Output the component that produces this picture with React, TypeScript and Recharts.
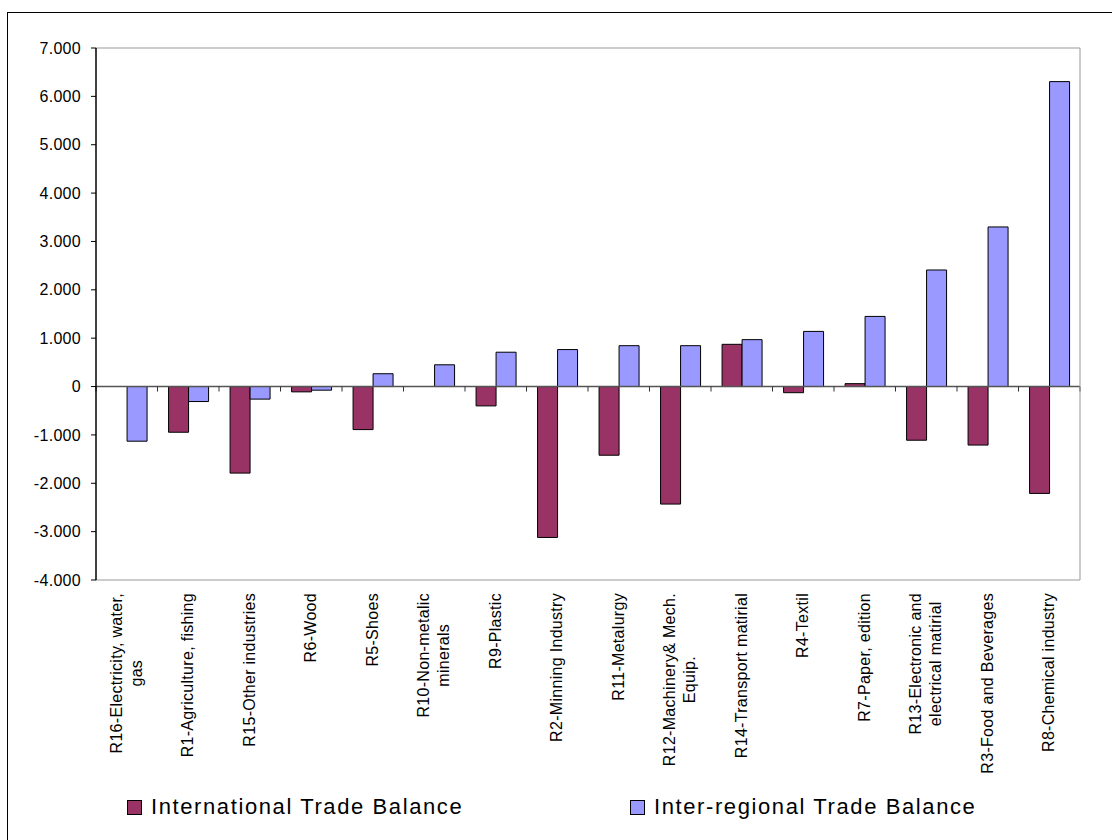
import React from 'react';
import { BarChart, Bar, XAxis, YAxis, CartesianGrid, ReferenceLine } from 'recharts';

// Sectors, sorted by inter-regional balance (as in the source sheet)
const SECTORS = [
  'R16-Electricity, water,\ngas',
  'R1-Agriculture, fishing',
  'R15-Other industries',
  'R6-Wood',
  'R5-Shoes',
  'R10-Non-metalic\nminerals',
  'R9-Plastic',
  'R2-Minning Industry',
  'R11-Metalurgy',
  'R12-Machinery& Mech.\nEquip.',
  'R14-Transport matirial',
  'R4-Textil',
  'R7-Paper, edition',
  'R13-Electronic and\nelectrical matirial',
  'R3-Food and Beverages',
  'R8-Chemical industry',
];

const INTERNATIONAL = [0, -945, -1790, -110, -890, 0, -400, -3120, -1420, -2430, 873, -127, 60, -1110, -1210, -2210];
const INTER_REGIONAL = [-1130, -310, -260, -75, 265, 450, 710, 765, 845, 845, 970, 1140, 1450, 2410, 3300, 6305];

const Y_TICKS = [-4000, -3000, -2000, -1000, 0, 1000, 2000, 3000, 4000, 5000, 6000, 7000];

const SERIES = [
  { key: 'international', name: 'International Trade Balance', color: '#993366' },
  { key: 'interRegional', name: 'Inter-regional Trade Balance', color: '#9999FF' },
];

const data = SECTORS.map((s, i) => ({
  sector: s,
  international: INTERNATIONAL[i],
  interRegional: INTER_REGIONAL[i],
}));

const FONT = '"Liberation Sans", Arial, sans-serif';
const TICK_FS = 16;
const TICK_LS = 0.3;

let ctx: CanvasRenderingContext2D | null = null;
function textWidth(s: string) {
  if (!ctx) {
    ctx = document.createElement('canvas').getContext('2d');
  }
  if (!ctx) return s.length * 8;
  ctx.font = `${TICK_FS}px ${FONT}`;
  return ctx.measureText(s).width + s.length * TICK_LS;
}

const fmt = (v: number) => {
  if (v === 0) return '0';
  return (v < 0 ? '-' : '') + Math.abs(v) / 1000 + '.000';
};

function SectorTick({ x, y, payload }: any) {
  const lines: string[] = String(payload.value).split('\n');
  const w0 = textWidth(lines[0]);
  const lh = 20;
  const base = 5 - ((lines.length - 1) * lh) / 2;
  return (
    <g transform={`translate(${x},${y}) rotate(-90)`}>
      {lines.map((ln, i) => (
        <text
          key={i}
          x={i === 0 ? 0 : -w0 / 2}
          y={base + i * lh}
          textAnchor={i === 0 ? 'end' : 'middle'}
          fontSize={TICK_FS}
          letterSpacing={TICK_LS}
          fontFamily={FONT}
          fill="#000"
        >
          {ln}
        </text>
      ))}
    </g>
  );
}

// zero line with category separators like excel's crossing x axis
function ZeroLine(props: any) {
  const { x1, y1, x2 } = props;
  const n = SECTORS.length;
  const step = (x2 - x1) / n;
  return (
    <g>
      <line x1={x1} y1={y1} x2={x2} y2={y1} stroke="#555" strokeWidth={1.5} />
      {Array.from({ length: n + 1 }, (_, i) => (
        <line key={i} x1={x1 + i * step} y1={y1} x2={x1 + i * step} y2={y1 + 5} stroke="#333" strokeWidth={1} />
      ))}
    </g>
  );
}

export default function App() {
  return (
    <div style={{ position: 'absolute', left: 0, top: 0, width: 1112, height: 840, background: '#fff', overflow: 'hidden' }}>
      <div style={{ position: 'absolute', left: 7, top: 12, right: -10, bottom: -10, borderLeft: '1px solid #000', borderTop: '1px solid #000' }} />
      <BarChart
        width={1112}
        height={840}
        data={data}
        margin={{ top: 48, right: 31, left: 10, bottom: 60 }}
        barCategoryGap="18%"
        barGap={0}
      >
        <CartesianGrid vertical={false} stroke="#999" />
        <XAxis
          dataKey="sector"
          xAxisId="x"
          interval={0}
          height={200}
          axisLine={false}
          tickLine={false}
          tickSize={0}
          tickMargin={13}
          tick={<SectorTick />}
        />
        <YAxis
          yAxisId="left"
          domain={[-4000, 7000]}
          ticks={Y_TICKS}
          tickFormatter={fmt}
          width={86}
          axisLine={{ stroke: '#000', strokeWidth: 1.5 }}
          tickLine={{ stroke: '#000' }}
          tickSize={5}
          tickMargin={10}
          tick={{ fill: '#000', fontSize: TICK_FS, fontFamily: FONT, letterSpacing: TICK_LS }}
        />
        <YAxis
          yAxisId="right"
          orientation="right"
          domain={[-4000, 7000]}
          ticks={Y_TICKS}
          width={1}
          tick={false}
          tickLine={false}
          axisLine={{ stroke: '#999' }}
        />
        {SERIES.map((s) => (
          <Bar
            key={s.key}
            dataKey={s.key}
            name={s.name}
            xAxisId="x"
            yAxisId="left"
            fill={s.color}
            stroke="#000"
            strokeWidth={1}
            isAnimationActive={false}
          />
        ))}
        <ReferenceLine y={0} xAxisId="x" yAxisId="left" shape={<ZeroLine />} />
      </BarChart>
      {/* legend */}
      {SERIES.map((s, i) => (
        <div
          key={s.key}
          style={{
            position: 'absolute',
            left: i === 0 ? 127 : 630,
            top: 794,
            display: 'flex',
            alignItems: 'center',
            fontFamily: FONT,
            fontSize: 22,
            letterSpacing: 1.6,
            color: '#000',
            whiteSpace: 'nowrap',
          }}
        >
          <span style={{ display: 'inline-block', width: 13, height: 13, background: s.color, border: '1px solid #000', marginRight: 9 }} />
          <span>{s.name}</span>
        </div>
      ))}
    </div>
  );
}
